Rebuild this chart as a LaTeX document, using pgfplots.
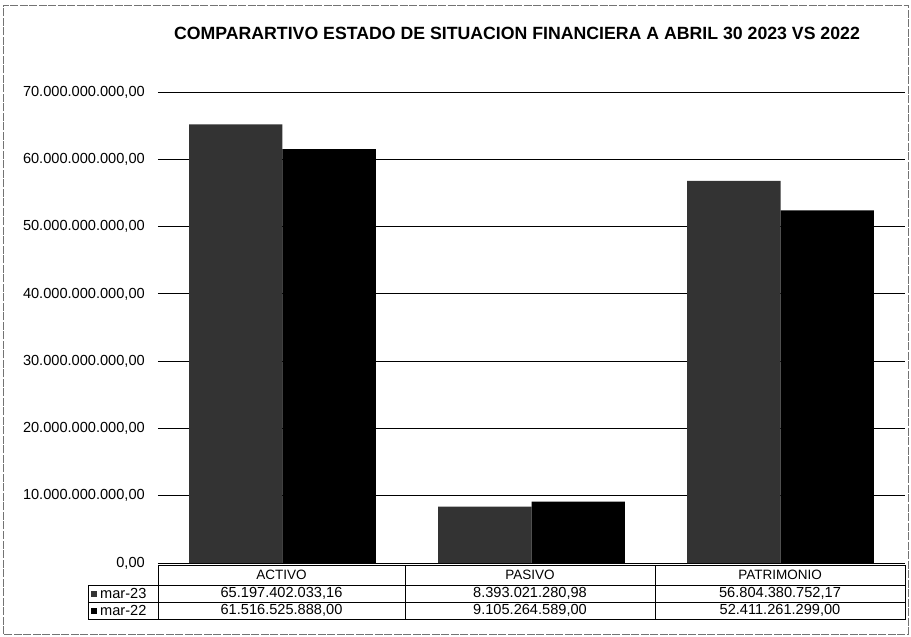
\documentclass[border=0pt]{standalone}
\usepackage{pgfplots}
\pgfplotsset{compat=1.18}
\usepackage{fontspec}
\setmainfont{Liberation Sans}
\definecolor{barA}{gray}{0.2}
\definecolor{barB}{gray}{0.0}
\begin{document}
\begin{tikzpicture}
\useasboundingbox (-158bp,-74bp) rectangle (753bp,563bp);
\draw[black!55, line width=0.6bp, dash pattern=on 8bp off 1.5bp] (-155bp,-71bp) rectangle (750bp,558bp);
\begin{axis}[
  at={(0bp,0bp)}, anchor=south west,
  scale only axis, width=747bp, height=471bp,
  xmin=-0.5, xmax=2.5, ymin=0, ymax=70000000000,
  scaled y ticks=false,
  xtick=\empty,
  ytick={0,10000000000,20000000000,30000000000,40000000000,50000000000,60000000000,70000000000},
  yticklabels={{0,00},{10.000.000.000,00},{20.000.000.000,00},{30.000.000.000,00},{40.000.000.000,00},{50.000.000.000,00},{60.000.000.000,00},{70.000.000.000,00}},
  yticklabel style={font=\fontsize{14.6bp}{16bp}\selectfont, inner sep=0pt, anchor=east, xshift=-13bp},
  major tick length=0pt,
  axis line style={draw=none},
  ymajorgrids, grid style={black, line width=0.8bp},
  clip=false,
]
\addplot[ybar, bar width=0.375, bar shift=0pt, fill=barA, draw=none] coordinates {(-0.1875,65197402033.16) (0.8125,8393021280.98) (1.8125,56804380752.17)};
\addplot[ybar, bar width=0.375, bar shift=0pt, fill=barB, draw=none] coordinates {(0.1875,61516525888.00) (1.1875,9105264589.00) (2.1875,52411261299.00)};
\end{axis}
% title
\node[font=\bfseries\fontsize{17.7bp}{20bp}\selectfont] at (359bp,530bp) {COMPARARTIVO ESTADO DE SITUACION FINANCIERA A ABRIL 30 2023 VS 2022};
% data table
\begin{scope}[line width=0.7bp, black]
\draw (0bp,-2bp) rectangle (747bp,-56bp);
\draw (0bp,-22bp) -- (747bp,-22bp);
\draw (-70bp,-39bp) -- (747bp,-39bp);
\draw (-70bp,-22bp) rectangle (0bp,-56bp);
\draw (247bp,-2bp) -- (247bp,-56bp);
\draw (497bp,-2bp) -- (497bp,-56bp);
\end{scope}
\begin{scope}[font=\fontsize{14.6bp}{16bp}\selectfont]
\node[font=\fontsize{13.5bp}{15bp}\selectfont] at (123.5bp,-12bp) {ACTIVO};
\node[font=\fontsize{13.5bp}{15bp}\selectfont] at (372bp,-12bp) {PASIVO};
\node[font=\fontsize{13.5bp}{15bp}\selectfont] at (622bp,-12bp) {PATRIMONIO};
\node at (123.5bp,-30.5bp) {65.197.402.033,16};
\node at (372bp,-30.5bp) {8.393.021.280,98};
\node at (622bp,-30.5bp) {56.804.380.752,17};
\node at (123.5bp,-47.5bp) {61.516.525.888,00};
\node at (372bp,-47.5bp) {9.105.264.589,00};
\node at (622bp,-47.5bp) {52.411.261.299,00};
\fill[barA] (-67bp,-34bp) rectangle (-61bp,-28bp);
\fill[barB] (-67bp,-51bp) rectangle (-61bp,-45bp);
\node[anchor=west, inner sep=0pt] at (-58bp,-30.5bp) {mar-23};
\node[anchor=west, inner sep=0pt] at (-58bp,-47.5bp) {mar-22};
\end{scope}
\end{tikzpicture}
\end{document}
